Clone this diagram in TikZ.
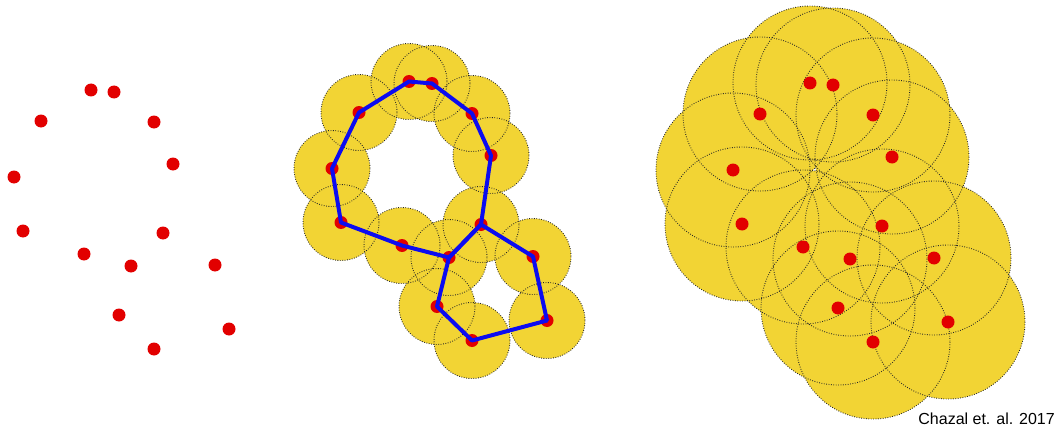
\documentclass[tikz,border=0pt]{standalone}
\usepackage{fontspec}
\setmainfont{Liberation Sans}
\definecolor{ballyellow}{RGB}{242,212,52}
\definecolor{ptred}{RGB}{226,0,0}
\definecolor{edgeblue}{RGB}{12,12,240}
\tikzset{
    ball/.style={fill=ballyellow},
    rim/.style={draw=black!85, line width=0.9pt,
                dash pattern=on 0.8pt off 1.6pt},
    point/.style={fill=ptred},
    edge/.style={draw=edgeblue, line width=4pt, line join=round},
    credit/.style={font=\fontsize{16}{18}\selectfont, anchor=base east,
                   inner sep=0pt},
}

\begin{document}
\begin{tikzpicture}[x=1pt, y=-1pt]
    \useasboundingbox (0,0) rectangle (1058,428);

    % the same cloud in the three panels
    \foreach \n/\px/\py in {1/91/90, 2/114/92, 3/41/121, 4/154/122,
        5/173/164, 6/14/177, 7/23/231, 8/163/233, 9/84/254, 10/131/266,
        11/215/265, 12/119/315, 13/229/329, 14/154/349}{
        \coordinate (l\n) at (\px,\py);
        \coordinate (m\n) at (\px+318,\py-8.5);
        \coordinate (r\n) at (\px+719,\py-7);
    }

    % small balls
    \foreach \n in {1,...,14} \fill[ball] (m\n) circle[radius=38];
    \foreach \n in {1,...,14} \draw[rim] (m\n) circle[radius=38];

    % large balls
    \foreach \n in {1,...,14} \fill[ball] (r\n) circle[radius=77];
    \foreach \n in {1,...,14} \draw[rim] (r\n) circle[radius=77];

    % points
    \foreach \n in {1,...,14}{
        \fill[point] (l\n) circle[radius=6.5];
        \fill[point] (m\n) circle[radius=6.5];
        \fill[point] (r\n) circle[radius=6.5];
    }

    % the two loops of the graph
    \draw[edge] (m3) -- (m1) -- (m2) -- (m4) -- (m5) -- (m8) -- (m10)
        -- (m9) -- (m7) -- (m6) -- cycle;
    \draw[edge] (m10) -- (m8) -- (m11) -- (m13) -- (m14) -- (m12) -- cycle;

    \node[credit] (cite) at (1055,424) {Chazal et. al. 2017};

\end{tikzpicture}
\end{document}
